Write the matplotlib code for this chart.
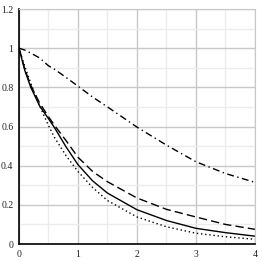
import matplotlib
matplotlib.use("Agg")
import matplotlib.pyplot as plt
from matplotlib.ticker import MultipleLocator, FormatStrFormatter, FuncFormatter

# values
t = [0, 0.1, 0.2, 0.35, 0.5, 0.6, 0.8, 1.0, 1.25, 1.5, 2.0, 2.5, 3.0, 3.5, 4.0]
solid_vals = [1.0, 0.885, 0.80, 0.705, 0.64, 0.595, 0.495, 0.405, 0.322, 0.26,
              0.175, 0.12, 0.08, 0.058, 0.04]
dashed_vals = [1.0, 0.89, 0.81, 0.72, 0.65, 0.607, 0.527, 0.443, 0.37, 0.318,
               0.235, 0.177, 0.138, 0.10, 0.075]
dotted_vals = [1.0, 0.905, 0.82, 0.705, 0.605, 0.545, 0.45, 0.37, 0.288, 0.222,
               0.138, 0.088, 0.055, 0.037, 0.024]
dashdot_vals = [1.0, 0.99, 0.975, 0.95, 0.91, 0.893, 0.85, 0.806, 0.75, 0.70,
                0.597, 0.505, 0.42, 0.36, 0.315]

fig = plt.figure(figsize=(2.62, 2.62), dpi=100)
ax = fig.add_axes([0.0725, 0.0687, 0.9005, 0.8969])

ax.plot(t, solid_vals, color="black", lw=1.0, ls="-")
ax.plot(t, dashed_vals, color="black", lw=1.0, ls=(0, (6, 3)))
ax.plot(t, dotted_vals, color="black", lw=1.0, ls=(0, (1, 2)))
ax.plot(t, dashdot_vals, color="black", lw=1.0, ls=(0, (5, 2.5, 1, 2.5)))

ax.set_xlim(0, 4)
ax.set_ylim(0, 1.2)
ax.xaxis.set_major_locator(MultipleLocator(1))
ax.xaxis.set_minor_locator(MultipleLocator(0.5))
ax.yaxis.set_major_locator(MultipleLocator(0.2))
ax.yaxis.set_minor_locator(MultipleLocator(0.1))
ax.yaxis.set_major_formatter(FuncFormatter(lambda v, p: f"{v:g}" if abs(v) > 1e-9 else "0"))
ax.xaxis.set_major_formatter(FuncFormatter(lambda v, p: f"{v:g}"))

ax.grid(which="major", color="#c8c8c8", lw=1.0)
ax.grid(which="minor", color="#ececec", lw=1.0)
ax.set_axisbelow(True)

for side in ("top", "right"):
    ax.spines[side].set_color("#c8c8c8")
for side in ("left", "bottom"):
    ax.spines[side].set_color("black")
    ax.spines[side].set_linewidth(1.2)

ax.tick_params(which="both", length=0, labelsize=7, pad=4)
for lab in ax.get_xticklabels() + ax.get_yticklabels():
    lab.set_fontfamily("Liberation Serif")
    lab.set_color("#222222")

fig.savefig("out.png", dpi=100)
